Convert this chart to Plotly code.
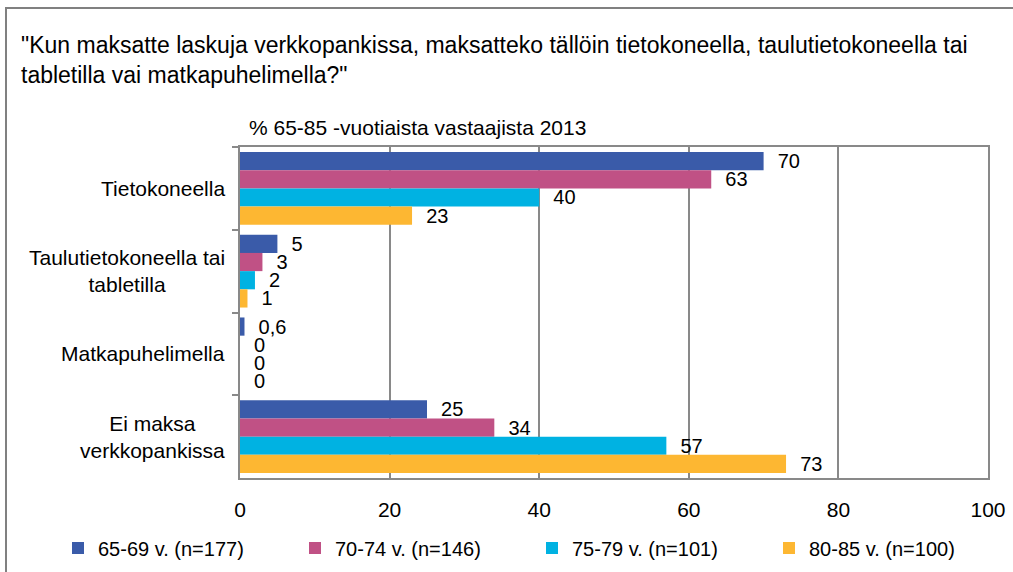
import plotly.graph_objects as go

categories = ["Tietokoneella", "Taulutietokoneella tai<br>tabletilla", "Matkapuhelimella", "Ei maksa<br>verkkopankissa"]
series_names = ["65-69 v. (n=177)", "70-74 v. (n=146)", "75-79 v. (n=101)", "80-85 v. (n=100)"]
v_65_69 = [70, 5, 0.6, 25]
v_70_74 = [63, 3, 0, 34]
v_75_79 = [40, 2, 0, 57]
v_80_85 = [23, 1, 0, 73]
x_ticks = [0, 20, 40, 60, 80, 100]

colors = ["#3A5BA9", "#C05185", "#00B2E2", "#FDB732"]
FONT = "Liberation Sans, Arial, sans-serif"

W, H = 1013, 572
L, R, T, B = 240, 25, 147, 94
pw, ph = W - L - R, H - T - B

def px_x(p):
    return (p - L) / pw

def px_y(p):
    return 1 - (p - T) / ph

def fmt(v):
    return "\u00a0\u00a0" + ("%g" % v).replace(".", ",")

fig = go.Figure()
for name, vals, col in zip(series_names, [v_65_69, v_70_74, v_75_79, v_80_85], colors):
    fig.add_trace(go.Bar(
        y=categories, x=vals, name=name, orientation="h",
        marker=dict(color=col, line=dict(width=0)),
        text=[fmt(v) for v in vals], textposition="outside", constraintext="none",
        textfont=dict(family=FONT, size=20, color="black"),
        cliponaxis=False,
    ))

fig.update_layout(
    width=W, height=H,
    margin=dict(l=L, r=R, t=T, b=B, autoexpand=False),
    paper_bgcolor="white", plot_bgcolor="white",
    barmode="group", bargap=0.12, bargroupgap=0,
    font=dict(family=FONT, size=20, color="black"),
    showlegend=True,
    legend=dict(orientation="h", x=px_x(58), y=px_y(548), xanchor="left", yanchor="middle",
                entrywidth=192, entrywidthmode="pixels", itemwidth=30,
                font=dict(family=FONT, size=20), bgcolor="rgba(0,0,0,0)"),
    xaxis=dict(range=[0, 100], tickvals=x_ticks, showgrid=True, gridcolor="#898989", gridwidth=1.5,
               showline=True, linecolor="#898989", linewidth=1.5, mirror=True, zeroline=False,
               ticks="outside", ticklen=12, tickcolor="rgba(0,0,0,0)",
               tickfont=dict(family=FONT, size=21), fixedrange=True, automargin=False),
    yaxis=dict(autorange="reversed", showticklabels=False, showline=True, linecolor="#898989",
               linewidth=1.5, mirror=True, ticks="outside", ticklen=6, tickcolor="#898989",
               tickwidth=1.5, tickson="boundaries", showgrid=False, automargin=False),
)

for c in categories:
    fig.add_annotation(x=px_x(227), y=c, xref="paper", yref="y", text=c, showarrow=False,
                       xanchor="right", yanchor="middle", align="center",
                       font=dict(family=FONT, size=21, color="black"))

fig.add_annotation(x=px_x(19), y=px_y(45), xref="paper", yref="paper", showarrow=False,
                   xanchor="left", yanchor="middle",
                   text='"Kun maksatte laskuja verkkopankissa, maksatteko tällöin tietokoneella, taulutietokoneella tai',
                   font=dict(family=FONT, size=23, color="black"))
fig.add_annotation(x=px_x(19), y=px_y(75), xref="paper", yref="paper", showarrow=False,
                   xanchor="left", yanchor="middle",
                   text='tabletilla vai matkapuhelimella?"',
                   font=dict(family=FONT, size=23, color="black"))
fig.add_annotation(x=px_x(247), y=px_y(128), xref="paper", yref="paper", showarrow=False,
                   xanchor="left", yanchor="middle",
                   text="% 65-85 -vuotiaista vastaajista 2013",
                   font=dict(family=FONT, size=21, color="black"))

fig.add_shape(type="rect", xref="paper", yref="paper",
              x0=px_x(6), x1=px_x(1300), y0=px_y(8), y1=px_y(900),
              line=dict(color="#808080", width=2), fillcolor="rgba(0,0,0,0)", layer="below")

fig.write_html("out.html", config={"displayModeBar": False},
               post_script="document.body.style.margin='0px';")
